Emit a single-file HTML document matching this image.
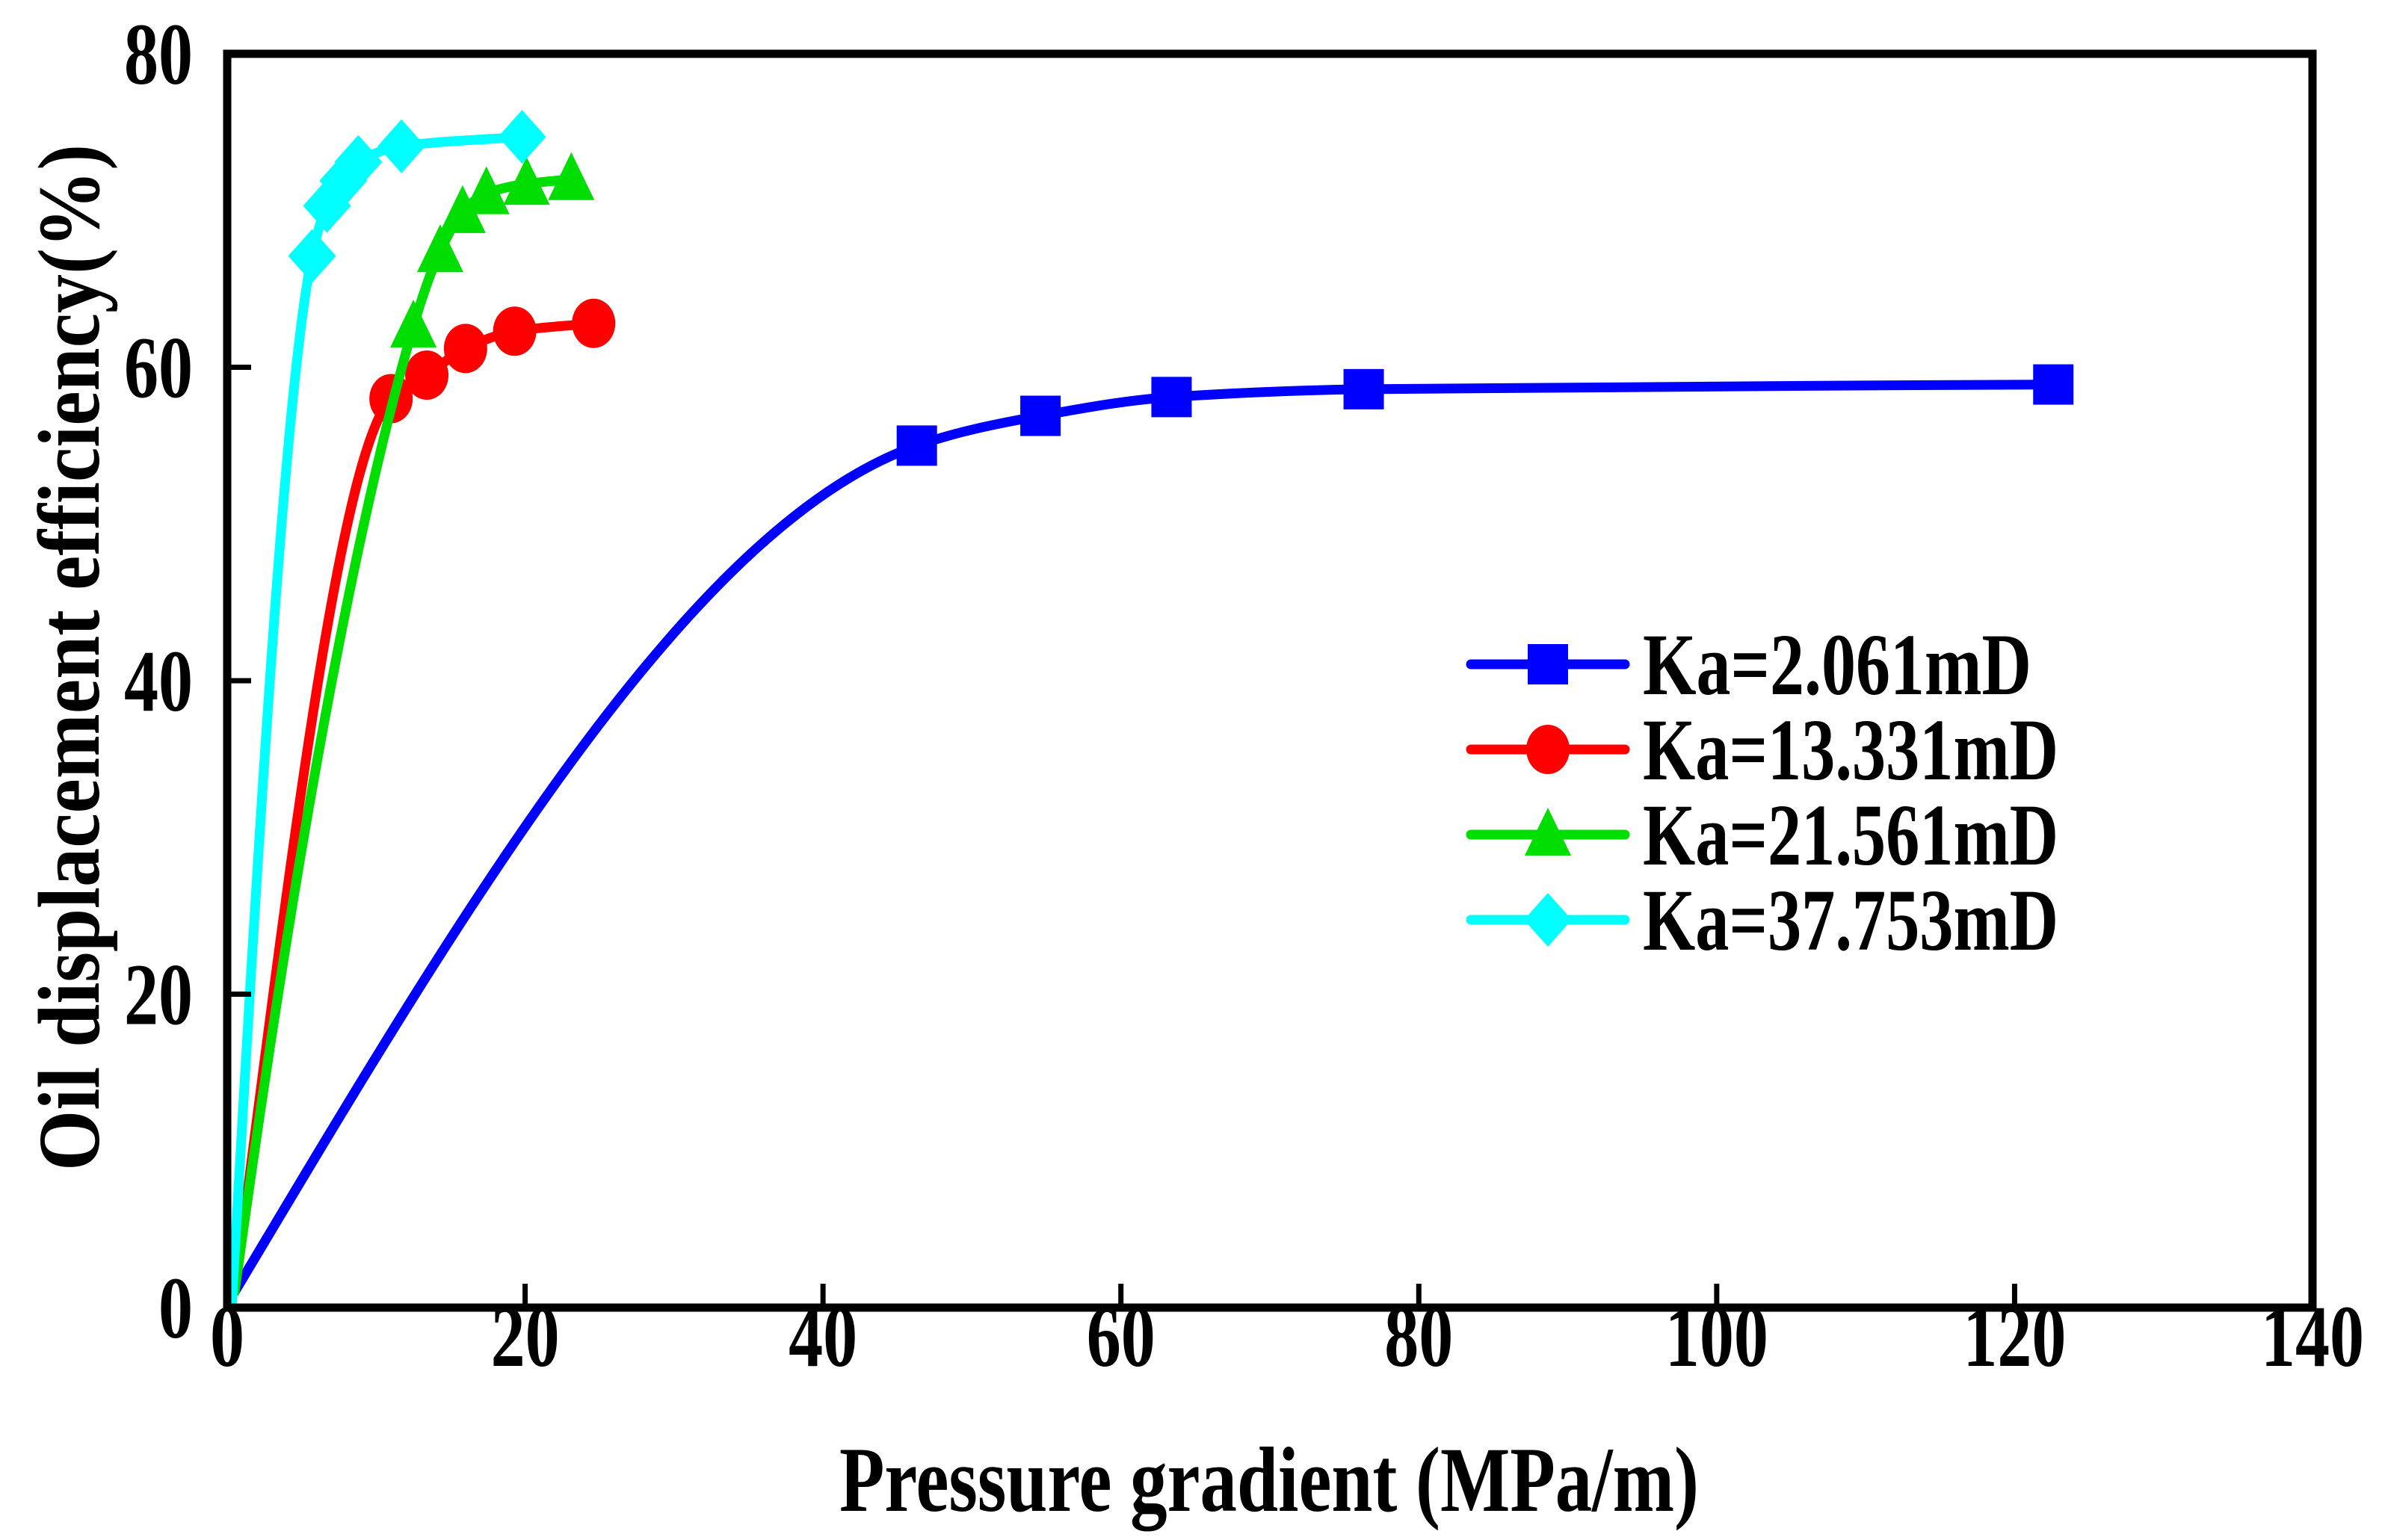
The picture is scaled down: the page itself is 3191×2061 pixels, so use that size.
<!DOCTYPE html>
<html><head><meta charset="utf-8"><style>
html,body{margin:0;padding:0;background:#fff;}
svg{display:block;}
text{font-family:"Liberation Serif",serif;font-weight:bold;fill:#000;}
</style></head><body>
<svg id="chart" width="3191" height="2061" viewBox="0 0 3191 2061" xmlns="http://www.w3.org/2000/svg">
<rect x="0" y="0" width="3191" height="2061" fill="#fff"/>
<g id="plot"></g>
<rect x="304" y="72" width="2790" height="1678" fill="none" stroke="#000" stroke-width="11"/>
<g id="axes"></g>
<text x="1698" y="2022" font-size="124" text-anchor="middle" textLength="1150" lengthAdjust="spacingAndGlyphs">Pressure gradient (MPa/m)</text>
<text transform="translate(132,880) rotate(-90)" font-size="118" text-anchor="middle" textLength="1374" lengthAdjust="spacingAndGlyphs">Oil displacement efficiency(%)</text>
<g id="legend"></g>
</svg>
<script>
const xTicks = [0,20,40,60,80,100,120,140];
const yTicks = [0,20,40,60,80];
const seriesNames = ["Ka=2.061mD","Ka=13.331mD","Ka=21.561mD","Ka=37.753mD"];
const blueX = [0.5,46.3,54.6,63.4,76.3,122.6];
const blueY = [1,55.0,56.9,58.1,58.6,58.9];
const redX = [0.5,11.0,13.4,16.0,19.3,24.6];
const redY = [1,58.0,59.5,61.2,62.3,62.8];
const greenX = [0.5,12.5,14.3,15.8,17.4,20.1,23.1];
const greenY = [1,62.6,67.4,69.9,71.1,71.7,72.0];
const cyanX = [0.3,5.7,6.7,7.8,8.8,11.7,19.8];
const cyanY = [0,67.1,70.3,71.9,73.1,74.1,74.7];

const NS="http://www.w3.org/2000/svg";
const L=304,R=3094,T=72,B=1750;
const xs=v=>L+(v/140)*(R-L);
const ys=v=>B-(v/80)*(B-T);
function mk(tag,attrs,parent){const e=document.createElementNS(NS,tag);for(const k in attrs)e.setAttribute(k,attrs[k]);parent.appendChild(e);return e;}
const axes=document.getElementById('axes');
xTicks.forEach(v=>{
  const t=mk('line',{x1:xs(v),x2:xs(v),y1:B,y2:B-32,stroke:'#000','stroke-width':7},axes);
  
  
  const w=String(v).length*46;
  const lb=mk('text',{x:xs(v),y:1828,'font-size':118,'text-anchor':'middle',textLength:w,lengthAdjust:'spacingAndGlyphs'},axes);
  lb.textContent=v;
  
  
});
yTicks.forEach(v=>{
  const t=mk('line',{x1:L,x2:L+32,y1:ys(v),y2:ys(v),stroke:'#000','stroke-width':7},axes);
  
  
  const w=String(v).length*46;
  const lb=mk('text',{x:258,y:ys(v)+40,'font-size':118,'text-anchor':'end',textLength:w,lengthAdjust:'spacingAndGlyphs'},axes);
  lb.textContent=v;
  
  
});
function smoothPath(px,py){
  const n=px.length;
  const X=px.map(xs), Y=py.map(ys);
  const d=[],m=new Array(n);
  for(let i=0;i<n-1;i++) d.push((Y[i+1]-Y[i])/(X[i+1]-X[i]));
  m[0]=d[0]*1.35; m[n-1]=d[n-2];
  for(let i=1;i<n-1;i++){
    if(d[i-1]*d[i]<=0) m[i]=0;
    else { const h0=X[i]-X[i-1],h1=X[i+1]-X[i],w1=2*h1+h0,w2=h1+2*h0; m[i]=(w1+w2)/(w1/d[i-1]+w2/d[i]); }
  }
  let s='M'+X[0]+','+Y[0];
  for(let i=0;i<n-1;i++){
    const h=(X[i+1]-X[i])/3;
    s+=' C'+(X[i]+h)+','+(Y[i]+m[i]*h)+' '+(X[i+1]-h)+','+(Y[i+1]-m[i+1]*h)+' '+X[i+1]+','+Y[i+1];
  }
  return s;
}
function marker(shape,cx,cy,color,parent){
  let e;
  if(shape==='square') e=mk('rect',{x:cx-27,y:cy-27,width:54,height:54,fill:color},parent);
  else if(shape==='circle') e=mk('ellipse',{cx:cx,cy:cy,rx:29,ry:33,fill:color},parent);
  else if(shape==='triangle') e=mk('polygon',{points:`${cx},${cy-36} ${cx+31},${cy+28} ${cx-31},${cy+28}`,fill:color},parent);
  else e=mk('polygon',{points:`${cx},${cy-36} ${cx+32},${cy} ${cx},${cy+36} ${cx-32},${cy}`,fill:color},parent);
  return e;
}
const series=[
  {x:blueX,y:blueY,c:'#0000ff',s:'square',n:'ka-2-061'},
  {x:redX,y:redY,c:'#ff0000',s:'circle',n:'ka-13-331'},
  {x:greenX,y:greenY,c:'#00dd00',s:'triangle',n:'ka-21-561'},
  {x:cyanX,y:cyanY,c:'#00ffff',s:'diamond',n:'ka-37-753'}
];
const plot=document.getElementById('plot');
series.forEach(sr=>{
  const g=mk('g',{},plot);
  
  
  const pth=mk('path',{d:smoothPath(sr.x,sr.y),fill:'none',stroke:sr.c,'stroke-width':13,'stroke-linejoin':'round','stroke-linecap':'round'},g);
  
  
  sr.x.forEach((v,i)=>{
    if(i===0) return;
    const m=marker(sr.s,xs(v),ys(sr.y[i]),sr.c,g);
    
    
  });
});
const legend=document.getElementById('legend');
const legY=[889,1003,1117,1231];
const legW=[520,556,556,556];
series.forEach((sr,i)=>{
  const g=mk('g',{},legend);
  
  
  mk('line',{x1:1968,x2:2174,y1:legY[i],y2:legY[i],stroke:sr.c,'stroke-width':13,'stroke-linecap':'round'},g);
  marker(sr.s,2071,legY[i],sr.c,g);
  const t=mk('text',{x:2198,y:legY[i]+40,'font-size':118,textLength:legW[i],lengthAdjust:'spacingAndGlyphs'},g);
  t.textContent=seriesNames[i];
  
  
});
</script>
</body></html>
